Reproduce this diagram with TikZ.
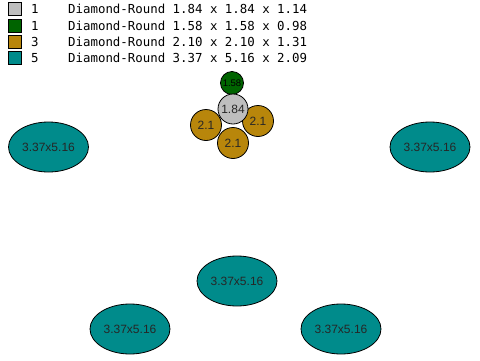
\documentclass[tikz,border=0pt]{standalone}
\usepackage{fontspec}
\setmainfont{Liberation Sans}
\newfontfamily\monofont{DejaVu Sans Mono}
\usetikzlibrary{shapes.geometric}
\definecolor{cgray}{HTML}{BEBEBE}
\definecolor{cgreen}{HTML}{006400}
\definecolor{cgold}{HTML}{B8860B}
\definecolor{cteal}{HTML}{008B8B}
\tikzset{
  legbox/.style={draw=black, line width=1pt, minimum size=13pt, inner sep=0pt},
  legtxt/.style={anchor=west, inner sep=0pt, font=\monofont\fontsize{12.4}{14}\selectfont},
  ball/.style={circle, draw=black, line width=0.8pt, inner sep=0pt, font=\fontsize{12}{14}\selectfont, text=black!85},
  egg/.style={ellipse, draw=black, line width=0.8pt, fill=cteal, minimum width=80pt, minimum height=50pt, inner sep=0pt, font=\fontsize{12}{14}\selectfont, text=black!85}
}
\begin{document}
\begin{tikzpicture}[x=1pt,y=-1pt]
\useasboundingbox (0,0) rectangle (480,360);
% legend
\node[legbox, fill=cgray] (l1) at (15,9) {};
\node[legbox, fill=cgreen] (l2) at (15,25.5) {};
\node[legbox, fill=cgold] (l3) at (15,42) {};
\node[legbox, fill=cteal] (l4) at (15,58) {};
\node[legtxt] (n1) at (31,9) {1};
\node[legtxt] (n2) at (31,25.5) {1};
\node[legtxt] (n3) at (31,42) {3};
\node[legtxt] (n4) at (31,58) {5};
\node[legtxt] (t1) at (68,9) {Diamond-Round 1.84 x 1.84 x 1.14};
\node[legtxt] (t2) at (68,25.5) {Diamond-Round 1.58 x 1.58 x 0.98};
\node[legtxt] (t3) at (68,42) {Diamond-Round 2.10 x 2.10 x 1.31};
\node[legtxt] (t4) at (68,58) {Diamond-Round 3.37 x 5.16 x 2.09};
% balls
\node[ball, fill=cgreen, minimum size=23pt, font=\fontsize{9.5}{11}\selectfont, text=black] (g) at (232,83) {1.58};
\node[ball, fill=cgold, minimum size=31pt] (b1) at (206,125) {2.1};
\node[ball, fill=cgold, minimum size=31pt] (b2) at (258,121) {2.1};
\node[ball, fill=cgold, minimum size=31pt] (b3) at (233,143) {2.1};
\node[ball, fill=cgray, minimum size=30pt] (c) at (233,109) {1.84};
% ellipses
\node[egg] (e1) at (48.5,147) {3.37x5.16};
\node[egg] (e2) at (430,147) {3.37x5.16};
\node[egg] (e3) at (237,281) {3.37x5.16};
\node[egg] (e4) at (130,329) {3.37x5.16};
\node[egg] (e5) at (341,329) {3.37x5.16};
\end{tikzpicture}
\end{document}
